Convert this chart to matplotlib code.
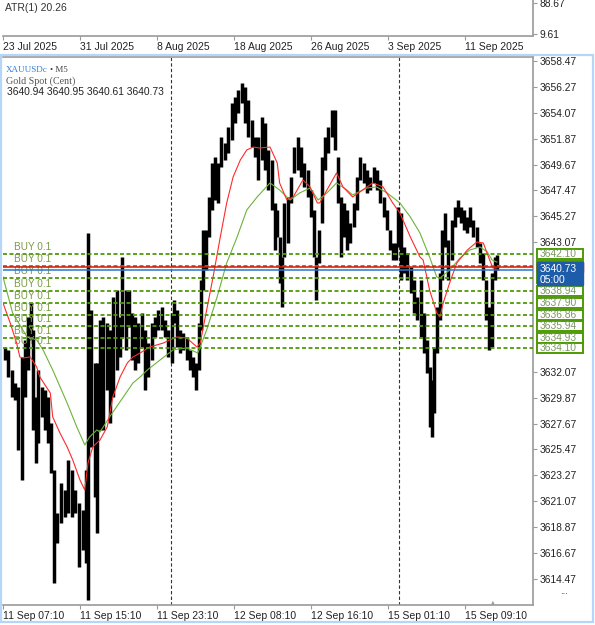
import matplotlib
matplotlib.use("Agg")
import numpy as np
import matplotlib.pyplot as plt
from matplotlib.transforms import blended_transform_factory
from matplotlib.patches import Rectangle

# ---- values (XAUUSDc, M5) ----
bar_idx = [2, 6, 11, 15, 19, 24, 27, 31, 35, 37, 41, 44, 49, 52, 56, 60, 64, 67, 72, 77,
           81, 86, 90, 95, 100, 104, 106, 110, 115, 117, 121, 125, 130, 133, 137, 142, 146, 148, 153, 157,
           161, 165, 168, 173, 177, 181, 186, 190, 193, 198, 202, 206, 211, 213, 217, 221, 224, 229, 233, 237,
           241, 244, 247, 249, 253, 257, 261, 264, 268, 272, 277, 281, 286, 289, 293, 298, 302, 306, 311, 314,
           318, 323, 327, 330, 335, 339, 342, 345, 348, 350, 355, 359, 363, 368, 372, 375, 380, 384, 388, 390,
           394, 398, 402, 405, 410, 414, 418, 421, 425, 429, 433, 438, 441, 445, 450, 454, 458, 463, 466, 470,
           475, 479, 483, 486, 490, 493, 496, 500, 504, 509, 513, 516, 521, 525, 529, 532, 535, 537, 541, 545,
           547, 551, 555, 560, 564, 567, 571, 575, 579, 582, 586, 591, 595, 599, 602, 606, 610, 614, 616]
bar_high = [3634.17, 3633.92, 3632.22, 3631.11, 3630.77, 3633.32, 3634.77, 3636.72, 3637.91, 3635.62,
            3629.92, 3632.22, 3630.77, 3630.52, 3629.92, 3627.72, 3623.72, 3620.07, 3622.62, 3622.02,
            3624.57, 3623.72, 3622.02, 3620.92, 3620.32, 3623.72, 3643.86, 3637.32, 3632.81, 3632.81,
            3636.47, 3636.72, 3636.21, 3635.62, 3638.42, 3639.01, 3636.72, 3641.82, 3639.01, 3639.01,
            3637.06, 3636.72, 3636.21, 3637.06, 3635.62, 3634.51, 3636.21, 3636.72, 3637.32, 3637.57,
            3636.47, 3635.62, 3637.06, 3638.17, 3637.32, 3635.62, 3635.36, 3635.02, 3633.92, 3633.32,
            3632.81, 3636.21, 3639.86, 3644.11, 3644.11, 3646.92, 3649.81, 3650.31, 3649.81, 3652.01,
            3651.50, 3652.86, 3654.90, 3655.41, 3656.01, 3656.60, 3656.26, 3655.16, 3653.46, 3652.01,
            3652.01, 3653.71, 3653.20, 3650.91, 3650.06, 3646.41, 3645.81, 3643.52, 3641.82, 3646.41,
            3646.92, 3648.62, 3651.16, 3652.01, 3651.16, 3649.81, 3649.21, 3647.51, 3645.81, 3641.82,
            3644.11, 3650.31, 3652.01, 3652.86, 3654.31, 3654.31, 3650.31, 3646.92, 3646.41, 3645.81,
            3644.71, 3646.41, 3648.62, 3650.31, 3649.81, 3649.21, 3648.62, 3649.47, 3649.21, 3648.36,
            3646.92, 3645.81, 3644.11, 3643.01, 3643.01, 3646.07, 3645.56, 3642.67, 3642.16, 3640.97,
            3639.86, 3638.42, 3639.86, 3637.06, 3634.77, 3632.47, 3631.37, 3634.17, 3637.57, 3640.46,
            3644.11, 3645.56, 3643.26, 3644.96, 3646.07, 3646.66, 3646.07, 3645.81, 3645.22, 3646.07,
            3644.96, 3644.37, 3643.01, 3642.16, 3639.86, 3637.57, 3640.46, 3641.82, 3641.99]
bar_low = [3633.07, 3631.62, 3629.92, 3629.67, 3625.42, 3622.87, 3629.92, 3632.22, 3634.77, 3627.12,
           3624.32, 3626.02, 3628.23, 3627.12, 3626.02, 3623.47, 3614.12, 3617.52, 3619.22, 3619.73,
           3620.07, 3619.73, 3620.07, 3615.48, 3616.93, 3615.82, 3612.68, 3625.68, 3621.43, 3618.37,
           3627.12, 3627.12, 3630.52, 3627.72, 3629.92, 3632.22, 3633.32, 3635.02, 3633.92, 3635.87,
           3633.07, 3632.22, 3632.81, 3634.17, 3630.52, 3631.62, 3633.07, 3635.02, 3635.62, 3635.62,
           3635.02, 3633.32, 3632.81, 3636.21, 3634.17, 3633.66, 3633.92, 3633.07, 3632.22, 3631.62,
           3630.52, 3632.22, 3635.62, 3639.01, 3640.71, 3643.52, 3645.81, 3646.66, 3646.41, 3649.47,
           3650.06, 3650.65, 3651.76, 3653.20, 3654.05, 3654.90, 3653.20, 3652.01, 3651.16, 3650.31,
           3648.36, 3650.06, 3649.21, 3647.51, 3645.81, 3642.41, 3643.52, 3639.61, 3637.57, 3641.82,
           3643.01, 3646.41, 3648.96, 3649.21, 3648.62, 3647.77, 3646.92, 3645.22, 3641.82, 3638.17,
           3641.31, 3644.71, 3649.21, 3650.65, 3652.01, 3650.91, 3646.41, 3641.82, 3643.52, 3642.41,
           3643.01, 3644.37, 3645.81, 3648.36, 3648.11, 3647.26, 3647.51, 3648.11, 3647.51, 3646.41,
           3645.22, 3644.11, 3642.41, 3641.56, 3641.56, 3642.67, 3639.86, 3640.46, 3639.86, 3638.76,
           3637.06, 3636.47, 3635.02, 3633.66, 3631.96, 3627.38, 3626.53, 3628.57, 3633.66, 3636.47,
           3639.86, 3642.67, 3639.86, 3641.56, 3644.37, 3645.22, 3644.71, 3644.11, 3643.86, 3644.37,
           3643.52, 3642.67, 3641.31, 3639.86, 3636.47, 3633.92, 3634.17, 3639.86, 3640.71]

ma_red_idx = [0, 9, 17, 21, 25, 34, 42, 46, 50, 59, 62, 71, 80, 87, 96, 102, 106, 112, 121, 130,
              137, 146, 155, 162, 171, 183, 200, 208, 217, 229, 242, 246, 254, 262, 271, 279, 287, 296, 304, 312,
              320, 333, 342, 345, 354, 362, 374, 383, 392, 395, 404, 416, 424, 436, 445, 461, 474, 486, 495, 508,
              520, 524, 532, 541, 545, 549, 557, 566, 579, 591, 599, 607, 611, 615]
ma_red = [3637.91, 3636.21, 3634.51, 3633.32, 3633.24, 3633.32, 3632.47, 3631.62, 3631.20, 3630.26,
          3628.23, 3626.87, 3625.68, 3624.57, 3622.87, 3622.02, 3624.32, 3625.68, 3626.27, 3627.38,
          3629.92, 3631.62, 3632.81, 3633.32, 3633.66, 3634.17, 3634.51, 3634.77, 3635.02, 3634.94,
          3634.17, 3634.51, 3637.32, 3640.12, 3643.52, 3646.41, 3648.62, 3650.06, 3650.91, 3651.16,
          3651.08, 3651.16, 3649.81, 3648.11, 3646.66, 3646.92, 3648.36, 3647.77, 3646.41, 3646.41,
          3647.51, 3648.96, 3647.77, 3646.92, 3647.34, 3648.11, 3647.77, 3646.41, 3645.56, 3643.52,
          3641.82, 3641.56, 3639.01, 3637.06, 3636.72, 3637.91, 3639.61, 3641.31, 3642.41, 3643.09,
          3643.01, 3641.56, 3640.88, 3640.88]

ma_green_idx = [0, 12, 30, 42, 50, 62, 80, 92, 102, 108, 117, 121, 133, 150, 162, 171, 180, 196, 212, 229,
                243, 254, 267, 279, 292, 304, 317, 333, 345, 358, 370, 383, 393, 404, 416, 429, 436, 454, 466, 479,
                495, 508, 520, 532, 541, 545, 557, 570, 582, 595, 604, 610, 616]
ma_green = [3640.12, 3637.06, 3635.02, 3634.77, 3633.92, 3632.22, 3629.41, 3627.38, 3625.85, 3626.53,
            3627.12, 3626.95, 3628.23, 3629.92, 3631.11, 3631.62, 3632.22, 3633.07, 3633.92, 3634.09,
            3633.66, 3635.62, 3638.42, 3641.31, 3643.52, 3645.81, 3646.92, 3648.11, 3647.51, 3646.66,
            3647.26, 3647.68, 3646.66, 3647.26, 3648.11, 3647.51, 3647.09, 3647.68, 3647.77, 3647.26,
            3646.41, 3645.22, 3643.86, 3641.82, 3640.12, 3640.03, 3640.71, 3641.73, 3642.41, 3642.67,
            3642.24, 3641.56, 3641.39]

buy_levels = [3642.10, 3641.05, 3640.06, 3638.94, 3637.90, 3636.86, 3635.94, 3634.93, 3634.10]
ask_price = 3641.01
bid_price = 3640.73
separators = [210, 494]

price_ticks = [3658.47, 3656.27, 3654.07, 3651.87, 3649.67, 3647.47, 3645.27, 3643.07,
               3632.07, 3629.87, 3627.67, 3625.47, 3623.27, 3621.07, 3618.87, 3616.67, 3614.47]
time_labels = ["11 Sep 07:10", "11 Sep 15:10", "11 Sep 23:10", "12 Sep 08:10",
               "12 Sep 16:10", "15 Sep 01:10", "15 Sep 09:10"]
date_labels = ["23 Jul 2025", "31 Jul 2025", "8 Aug 2025", "18 Aug 2025",
               "26 Aug 2025", "3 Sep 2025", "11 Sep 2025"]
atr_ticks = [88.67, 9.61]
bars_per_label = 96  # 8 hours of M5 bars

W, H = 595, 625
FONT = "Liberation Sans"
GRID = "#9a9a9a"
GREEN = "#4e9a06"


def px_rect(x0, y0, x1, y1):
    return [x0 / W, 1 - y1 / H, (x1 - x0) / W, (y1 - y0) / H]


fig = plt.figure(figsize=(W / 100, H / 100), dpi=100)
fig.patch.set_facecolor("white")

# selected-window frame (light blue)
fig.add_artist(Rectangle((1 / W, 1 - 622 / H), 592 / W, 567 / H, transform=fig.transFigure,
                         fill=False, ec="#b5d6f7", lw=1.6))

tick_pos = np.arange(len(time_labels)) * bars_per_label

# ---- ATR sub-window ----
atr = fig.add_axes(px_rect(3, 0, 533, 36))
atr.set_xlim(0, 661)
atr.set_ylim(4.5, 96.3)
for s in ["top", "left"]:
    atr.spines[s].set_visible(False)
for s in ["right", "bottom"]:
    atr.spines[s].set_color(GRID)
    atr.spines[s].set_linewidth(1.2)
atr.yaxis.tick_right()
atr.set_yticks(atr_ticks)
atr.set_yticklabels([f"{v:.2f}" for v in atr_ticks], fontsize=7.4, family=FONT, color="#222")
atr.set_xticks(tick_pos)
atr.set_xticklabels(date_labels, fontsize=7.5, family=FONT, color="#222", ha="left")
atr.tick_params(axis="both", length=3, width=0.8, color=GRID, pad=1.5)
fig.text(5 / W, 1 - 8 / H, "ATR(1) 20.26", fontsize=7.5, family=FONT, color="#333", va="center")

# ---- main price window ----
ax = fig.add_axes(px_rect(3, 57, 533, 605))
ax.set_xlim(0, 661)
ax.set_ylim(3612.25, 3658.81)
ax.spines["left"].set_visible(False)
for s in ["top", "right", "bottom"]:
    ax.spines[s].set_color(GRID)
    ax.spines[s].set_linewidth(1.2)

ax.vlines(bar_idx, bar_low, bar_high, color="black", lw=2.5, zorder=3)
ax.plot(ma_green_idx, ma_green, color="#6cb33a", lw=0.8, zorder=4)
ax.plot(ma_red_idx, ma_red, color="#ff2a2a", lw=0.8, zorder=4)

for sx in separators:
    ax.axvline(sx, color="#333333", lw=0.8, ls=(0, (3, 2)), zorder=2)

trans = blended_transform_factory(ax.transAxes, ax.transData)
for lv in buy_levels:
    ax.axhline(lv, color=GREEN, lw=1.3, ls=(0, (2.2, 1.4)), zorder=5)
    ax.annotate("BUY 0.1", (0.021, lv), xycoords=trans, xytext=(0, 1.5), textcoords="offset points",
                fontsize=7.2, family=FONT, color="#7a9a46", va="bottom", ha="left", zorder=6)
ax.axhline(ask_price, color="#e01010", lw=1.1, zorder=6)
ax.axhline(bid_price, color="#2f74c8", lw=1.1, zorder=6)

ax.xaxis.set_ticks_position("bottom")
ax.set_xticks(tick_pos)
ax.set_xticklabels(time_labels, fontsize=7.5, family=FONT, color="#222", ha="left")
ax.yaxis.tick_right()
ax.set_yticks(price_ticks)
ax.set_yticklabels([f"{v:.2f}" for v in price_ticks], fontsize=7.4, family=FONT, color="#222")
ax.tick_params(axis="both", length=3, width=0.8, color=GRID, pad=1.5)

# price label boxes on the right scale
px_per_price = 548 / (3658.81 - 3612.25)
bx0, bx1 = (537 - 3) / 530, (583 - 3) / 530
box_h = 10 / px_per_price
blue_top = ask_price + 0.38
blue_h = 23 / px_per_price
for lv in buy_levels:
    ax.add_patch(Rectangle((bx0, lv - box_h / 2), bx1 - bx0, box_h, transform=trans, clip_on=False,
                           fc="white", ec=GREEN, lw=1.4, zorder=7))
    if blue_top - blue_h < lv < blue_top:
        continue  # label hidden under the bid box
    ax.text(bx0 + 3 / 530, lv, f"{lv:.2f}", transform=trans, fontsize=7.4, family=FONT,
            color="#7a9a60", va="center", ha="left", clip_on=False, zorder=8)
ax.add_patch(Rectangle((bx0, ask_price - box_h / 2 - 0.05), bx1 - bx0, box_h, transform=trans,
                       clip_on=False, fc="#e01010", ec="#e01010", lw=1, zorder=9))
ax.add_patch(Rectangle((bx0, blue_top - blue_h), bx1 - bx0, blue_h, transform=trans,
                       clip_on=False, fc="#1d5ca8", ec="#1d5ca8", lw=1, zorder=10))
ax.text(bx0 + 3 / 530, blue_top - 6.5 / px_per_price, f"{bid_price:.2f}", transform=trans,
        fontsize=7.4, family=FONT, color="white", va="center", ha="left", zorder=11)
ax.text(bx0 + 3 / 530, blue_top - 17.5 / px_per_price, "05:00", transform=trans,
        fontsize=7.4, family=FONT, color="white", va="center", ha="left", zorder=11)

# symbol header
fig.text(6 / W, 1 - 70 / H, "XAUUSDc", fontsize=6.5, family="Liberation Serif", color="#2f7fe0", va="center")
fig.text(50 / W, 1 - 70 / H, "\u2022 M5", fontsize=6.5, family="Liberation Serif", color="#444", va="center")
fig.text(6 / W, 1 - 81 / H, "Gold Spot (Cent)", fontsize=7.2, family="Liberation Serif", color="#555", va="center")
fig.text(7 / W, 1 - 92 / H, "3640.94 3640.95 3640.61 3640.73", fontsize=7.4, family=FONT,
         color="#222", va="center")
fig.text(560 / W, 1 - 591 / H, "...", fontsize=7, family=FONT, color="#333", va="center")
fig.text(493 / W, 1 - 602 / H, "\u25b2", fontsize=3.5, color="#999", va="center", ha="center")

fig.savefig("out.png", dpi=100)
